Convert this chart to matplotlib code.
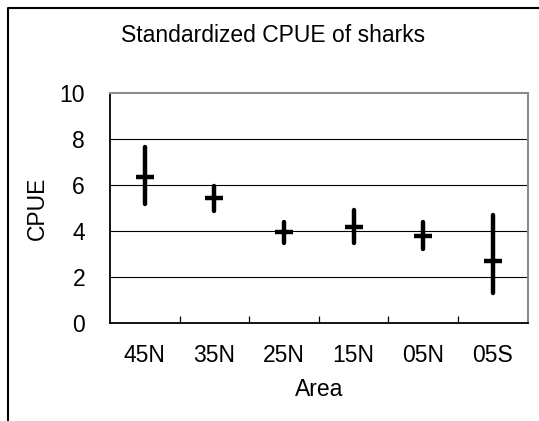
import matplotlib
matplotlib.use("Agg")
import matplotlib.pyplot as plt
from matplotlib.lines import Line2D
import numpy as np

# Standardized CPUE of sharks by area (estimate with lower / upper bounds)
areas = ["45N", "35N", "25N", "15N", "05N", "05S"]
cpue = [6.34, 5.44, 3.97, 4.19, 3.81, 2.70]
cpue_low = [5.17, 4.88, 3.50, 3.49, 3.24, 1.32]
cpue_high = [7.67, 5.97, 4.40, 4.94, 4.39, 4.71]

plt.rcParams['font.family'] = ['Liberation Sans Narrow', 'Liberation Sans', 'DejaVu Sans']
FS = 16.5

W, H = 539, 421
fig = plt.figure(figsize=(W / 100, H / 100), dpi=100)
ax = fig.add_axes([110 / W, 1 - 323.3 / H, 417.5 / W, 230 / H])

x = np.arange(len(areas))
cpue = np.array(cpue)
yerr = [cpue - np.array(cpue_low), np.array(cpue_high) - cpue]

# gridlines
for g in [2, 4, 6, 8]:
    ax.axhline(g, color='black', lw=0.8, zorder=1)

eb = ax.errorbar(x, cpue, yerr=yerr, fmt='_', color='black', ms=13.5, mew=3.2,
                 elinewidth=3.2, capsize=0, zorder=3)
for c in eb[2]:
    c.set_capstyle('round')

ax.set_xlim(-0.5, len(areas) - 0.5)
ax.set_ylim(0, 10)
ax.set_yticks([0, 2, 4, 6, 8, 10])
ax.set_xticks(x)
ax.set_xticklabels(areas)
ax.set_xticks(np.arange(len(areas) - 1) + 0.5, minor=True)
ax.tick_params(axis='x', which='major', length=0, pad=15, labelsize=FS)
ax.tick_params(axis='x', which='minor', direction='in', length=5, width=0.9, color='black')
ax.tick_params(axis='y', length=0, pad=18, labelsize=FS)

for s in ['top', 'right']:
    ax.spines[s].set_color('#8c8c8c')
    ax.spines[s].set_linewidth(1.5)
for s in ['left', 'bottom']:
    ax.spines[s].set_color('black')
    ax.spines[s].set_linewidth(1.3)

ax.set_ylabel("CPUE", fontsize=FS)
ax.yaxis.set_label_coords(-0.147, 0.5)
ax.set_xlabel("Area", fontsize=FS)
ax.xaxis.set_label_coords(0.5, -0.238)

fig.text(273 / W, 1 - 41.7 / H, "Standardized CPUE of sharks", fontsize=FS,
         ha='center', va='baseline')

# outer border (cropped on the right and bottom)
bx, by = 7.5 / W, 1 - 7.5 / H
fig.add_artist(Line2D([bx, bx, 1], [0, by, by], transform=fig.transFigure,
                      color='black', lw=1.5))

fig.savefig("out.png", dpi=100)
